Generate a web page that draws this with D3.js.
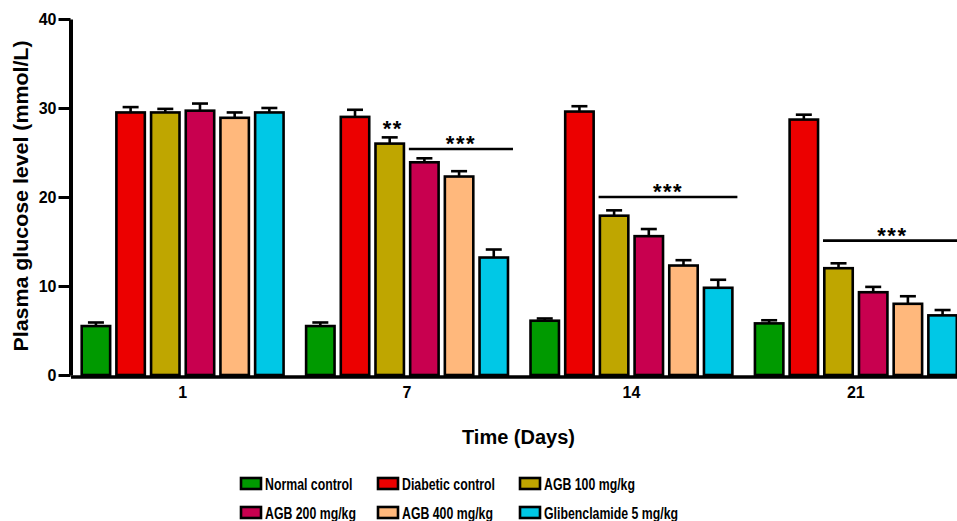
<!DOCTYPE html>
<html>
<head>
<meta charset="utf-8">
<script src="https://cdn.jsdelivr.net/npm/d3@7"></script>
<style>
  html, body { margin: 0; padding: 0; background: #fff; overflow: hidden; }
  svg { display: block; }
  text { font-family: "Liberation Sans", Arial, Helvetica, sans-serif; font-weight: bold; fill: #000; }
</style>
</head>
<body>
<svg id="chart" width="957" height="521"></svg>
<script>
// ---------- data ----------
const days = ["1", "7", "14", "21"];
const seriesNames = ["Normal control", "Diabetic control", "AGB 100 mg/kg", "AGB 200 mg/kg", "AGB 400 mg/kg", "Glibenclamide 5 mg/kg"];
const seriesColors = ["#009a00", "#ec0000", "#bfa600", "#c8004f", "#ffb87c", "#00c8e6"];
// mean values per series, one entry per day
const normalControl   = [5.5, 5.5, 6.1, 5.8];
const diabeticControl = [29.5, 29.0, 29.6, 28.7];
const agb100          = [29.5, 26.0, 17.9, 12.0];
const agb200          = [29.7, 23.9, 15.6, 9.3];
const agb400          = [28.9, 22.3, 12.3, 8.0];
const glibenclamide   = [29.5, 13.2, 9.8, 6.7];
// SEM (upper error) per series, one entry per day
const normalErr   = [0.4, 0.4, 0.25, 0.35];
const diabeticErr = [0.6, 0.8, 0.6, 0.55];
const agb100Err   = [0.4, 0.7, 0.6, 0.55];
const agb200Err   = [0.8, 0.45, 0.8, 0.6];
const agb400Err   = [0.6, 0.6, 0.6, 0.85];
const glibErr     = [0.5, 0.9, 0.9, 0.6];
const yTicks = [0, 10, 20, 30, 40];
// significance annotations: day, first series index, last series index, level, label
const sigDays   = ["7", "14", "21"];
const sigFrom   = [3, 2, 2];
const sigTo     = [5, 5, 5];
const sigLevel  = [25.4, 20.0, 15.1];
const sigLabels = ["***", "***", "***"];
// single-bar marks
const markDays   = ["7"];
const markSeries = [2];
const markLevel  = [28.3];
const markLabels = ["**"];

const values = [normalControl, diabeticControl, agb100, agb200, agb400, glibenclamide];
const errors = [normalErr, diabeticErr, agb100Err, agb200Err, agb400Err, glibErr];

// ---------- layout ----------
const svg = d3.select("#chart");
const axisX = 70.5;
const x0 = d3.scaleBand().domain(days).range([axisX, 968]).paddingInner(0.0726).paddingOuter(0.036);
const x1 = d3.scaleBand().domain(d3.range(seriesNames.length)).range([0, x0.bandwidth()]).paddingInner(0.18).paddingOuter(0.09);
const y = d3.scaleLinear().domain([0, 40]).range([375, 19]);
const strokeW = 2.6;

const rows = [];
days.forEach((d, di) => {
  seriesNames.forEach((s, si) => {
    rows.push({ day: d, si, v: values[si][di], e: errors[si][di] });
  });
});

// error bars
const eg = svg.append("g").attr("stroke", "#000").attr("stroke-width", strokeW).attr("fill", "none");
rows.forEach(r => {
  const cx = x0(r.day) + x1(r.si) + x1.bandwidth() / 2;
  eg.append("line").attr("x1", cx).attr("x2", cx).attr("y1", y(r.v)).attr("y2", y(r.v + r.e));
  eg.append("line").attr("x1", cx - 8).attr("x2", cx + 8).attr("y1", y(r.v + r.e)).attr("y2", y(r.v + r.e));
});

// bars
svg.append("g").selectAll("rect").data(rows).join("rect")
  .attr("x", r => x0(r.day) + x1(r.si))
  .attr("width", x1.bandwidth())
  .attr("y", r => y(r.v))
  .attr("height", r => y(0) - y(r.v))
  .attr("fill", r => seriesColors[r.si])
  .attr("stroke", "#000")
  .attr("stroke-width", strokeW);

// y axis
const yAxis = svg.append("g").attr("transform", `translate(${axisX},0)`)
  .call(d3.axisLeft(y).tickValues(yTicks).tickSize(12).tickSizeOuter(0).tickPadding(2));
yAxis.select(".domain").attr("stroke-width", 4).attr("stroke", "#000");
yAxis.selectAll(".tick line").attr("stroke-width", 3).attr("stroke", "#000");
yAxis.selectAll(".tick text").style("font-size", "16px").attr("font-family", null);

// x axis
const xAxis = svg.append("g").attr("transform", `translate(0,${y(0) + 1.5})`)
  .call(d3.axisBottom(x0).tickSize(0).tickSizeOuter(0).tickPadding(10));
xAxis.select(".domain").attr("stroke-width", 3.5).attr("stroke", "#000");
xAxis.selectAll(".tick text").style("font-size", "16px").attr("font-family", null);

// axis titles
svg.append("text")
  .attr("transform", "translate(28,196) rotate(-90)")
  .attr("text-anchor", "middle")
  .attr("textLength", 311)
  .attr("lengthAdjust", "spacingAndGlyphs")
  .style("font-size", "20px")
  .text("Plasma glucose level (mmol/L)");
svg.append("text")
  .attr("x", 518.5).attr("y", 444)
  .attr("text-anchor", "middle")
  .style("font-size", "20px")
  .text("Time (Days)");

// significance lines
const ag = svg.append("g");
sigDays.forEach((d, i) => {
  const xa = x0(d) + x1(sigFrom[i]) - strokeW / 2;
  const xb = x0(d) + x1(sigTo[i]) + x1.bandwidth() + 5;
  const ly = y(sigLevel[i]);
  ag.append("line").attr("x1", xa).attr("x2", xb).attr("y1", ly).attr("y2", ly)
    .attr("stroke", "#000").attr("stroke-width", 2.6);
  ag.append("text").attr("x", (xa + xb) / 2).attr("y", ly + 2)
    .attr("text-anchor", "middle").style("font-size", "22px").style("letter-spacing", "1.5px")
    .text(sigLabels[i]);
});
markDays.forEach((d, i) => {
  const cx = x0(d) + x1(markSeries[i]) + x1.bandwidth() / 2 + 3;
  ag.append("text").attr("x", cx).attr("y", y(markLevel[i]) + 12.8)
    .attr("text-anchor", "middle").style("font-size", "22px").style("letter-spacing", "1.5px")
    .text(markLabels[i]);
});

// legend
const legX = [240, 377, 519];
const legY = [484, 513];
const lg = svg.append("g");
seriesNames.forEach((s, i) => {
  const col = i % 3, row = Math.floor(i / 3);
  lg.append("rect").attr("x", legX[col] + 1).attr("y", legY[row] - 6).attr("width", 20).attr("height", 11)
    .attr("fill", seriesColors[i]).attr("stroke", "#000").attr("stroke-width", 2.6);
  lg.append("text")
    .attr("transform", `translate(${legX[col] + 25},${legY[row] + 5.5}) scale(0.77,1)`)
    .style("font-size", "16px")
    .text(s);
});
</script>
</body>
</html>
